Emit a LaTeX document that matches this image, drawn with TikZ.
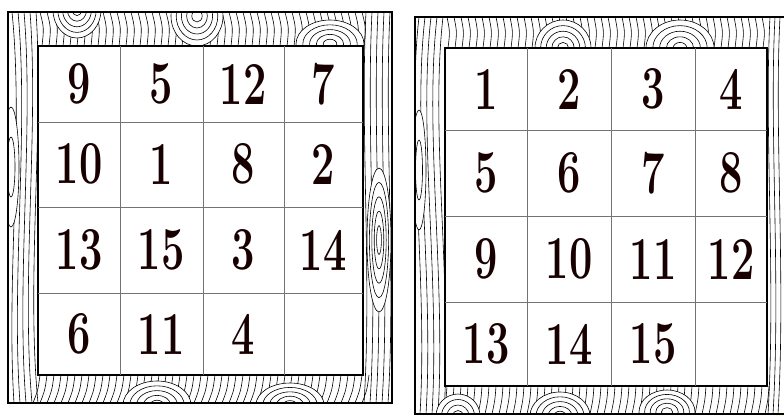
\documentclass[tikz,border=0pt]{standalone}
\usepackage{graphicx}
\tikzset{
  grain/.style={line width=0.6pt, black},
  gridl/.style={line width=0.7pt, black!55},
  frameb/.style={line width=2pt, black},
  innerb/.style={line width=1.1pt, black},
  num/.style={font=\fontsize{61}{61}\selectfont\bfseries, text=black!90!red, inner sep=0pt}
}
\newcommand\sq[1]{\scalebox{0.68}[1]{#1}}
\newcommand\woodknot[5]{%
  \fill[white] (#1,#2) ellipse ({#3} and {#4});
  \foreach \k in {1,...,#5} \draw[grain] (#1,#2) ellipse ({#3*\k/#5} and {#4*\k/#5});
}
\begin{document}
\begin{tikzpicture}[x=1pt,y=-1pt]
\useasboundingbox (0,0) rectangle (784,416);
\fill[white] (0,0) rectangle (784,416);
\fill[yellow!18] (775,30) rectangle (784,416);

% ---------------- left board wood ----------------
\begin{scope}[even odd rule]
\clip (8,12) rectangle (392,403) (38,46) rectangle (363,375);
\fill[white] (8,12) rectangle (392,403);
\foreach \i in {0,...,4} {
  \draw[grain] ({12+6*\i},12) .. controls ({24+5*\i},130) and ({6+5*\i},280) .. ({14+6*\i},403);
}
\foreach \i in {0,...,4} {
  \draw[grain] ({366+6*\i},12) .. controls ({360+6*\i},130) and ({372+6*\i},280) .. ({364+6*\i},403);
}
\foreach \x in {40,47,...,363} \draw[grain] (\x,12) .. controls ({\x+4},28) .. ({\x+2},46);
\foreach \x in {40,47,...,370} \draw[grain] (\x,375) .. controls ({\x-2},390) .. ({\x-7},403);
\woodknot{77}{10}{24}{28}{5}
\woodknot{197}{16}{26}{30}{5}
\woodknot{330}{44}{34}{24}{5}
\woodknot{157}{405}{34}{24}{5}
\woodknot{290}{405}{34}{22}{5}
\woodknot{379}{240}{12}{72}{5}
\woodknot{11}{167}{8}{60}{2}
\end{scope}
\draw[frameb] (8,12) rectangle (392,403);
\draw[innerb] (38,46) rectangle (363,375);
\foreach \x in {120,203,284} \draw[gridl] (\x,46) -- (\x,375);
\foreach \y in {122,207,293} \draw[gridl] (38,\y) -- (363,\y);

% ---------------- right board wood ----------------
\begin{scope}[even odd rule]
\clip (415,17) rectangle (790,414) (445,48) rectangle (767,386);
\fill[white] (415,17) rectangle (790,414);
\foreach \i in {0,...,4} {
  \draw[grain] ({419+6*\i},17) .. controls ({406+6*\i},130) and ({428+6*\i},280) .. ({420+6*\i},414);
}
\foreach \i in {0,...,2} {
  \draw[grain] ({770+5*\i},17) .. controls ({764+5*\i},130) and ({776+5*\i},280) .. ({768+5*\i},414);
}
\foreach \x in {447,454,...,767} \draw[grain] (\x,17) .. controls ({\x+3},32) .. ({\x+1},48);
\foreach \x in {447,454,...,772} \draw[grain] (\x,386) .. controls ({\x-1},400) .. ({\x-4},414);
\woodknot{563}{48}{28}{28}{5}
\woodknot{680}{48}{34}{28}{5}
\woodknot{458}{416}{22}{22}{4}
\woodknot{560}{416}{30}{24}{5}
\woodknot{667}{412}{28}{22}{5}
\woodknot{419}{170}{7}{60}{2}
\end{scope}
\draw[frameb] (784,17) -- (415,17) -- (415,414) -- (784,414);
\draw[innerb] (445,48) rectangle (767,386);
\foreach \x in {527,611,695} \draw[gridl] (\x,48) -- (\x,386);
\foreach \y in {130,216,302} \draw[gridl] (445,\y) -- (767,\y);

% ---------------- numbers ----------------
\node[num] (a1) at (79,84) {\sq{9}};
\node[num] (a2) at (161,84) {\sq{5}};
\node[num] (a3) at (243,84) {\sq{12}};
\node[num] (a4) at (323,84) {\sq{7}};
\node[num] (a5) at (79,164) {\sq{10}};
\node[num] (a6) at (161,164) {\sq{1}};
\node[num] (a7) at (243,164) {\sq{8}};
\node[num] (a8) at (323,164) {\sq{2}};
\node[num] (a9) at (79,250) {\sq{13}};
\node[num] (a10) at (161,250) {\sq{15}};
\node[num] (a11) at (243,250) {\sq{3}};
\node[num] (a12) at (323,250) {\sq{14}};
\node[num] (a13) at (79,334) {\sq{6}};
\node[num] (a14) at (161,334) {\sq{11}};
\node[num] (a15) at (243,334) {\sq{4}};

\node[num] (b1) at (486,89) {\sq{1}};
\node[num] (b2) at (569,89) {\sq{2}};
\node[num] (b3) at (653,89) {\sq{3}};
\node[num] (b4) at (731,89) {\sq{4}};
\node[num] (b5) at (486,173) {\sq{5}};
\node[num] (b6) at (569,173) {\sq{6}};
\node[num] (b7) at (653,173) {\sq{7}};
\node[num] (b8) at (731,173) {\sq{8}};
\node[num] (b9) at (486,259) {\sq{9}};
\node[num] (b10) at (569,259) {\sq{10}};
\node[num] (b11) at (653,259) {\sq{11}};
\node[num] (b12) at (731,259) {\sq{12}};
\node[num] (b13) at (486,344) {\sq{13}};
\node[num] (b14) at (569,344) {\sq{14}};
\node[num] (b15) at (653,344) {\sq{15}};
\end{tikzpicture}
\end{document}
